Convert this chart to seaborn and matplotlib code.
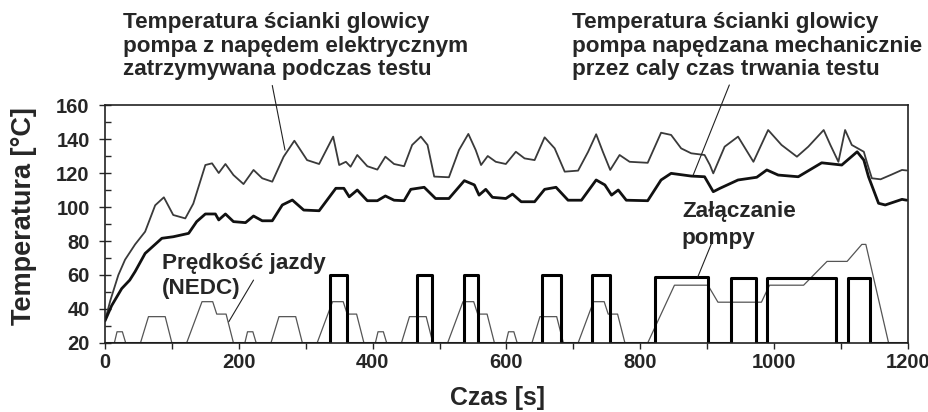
import matplotlib
matplotlib.use("Agg")
import matplotlib.pyplot as plt
from matplotlib.ticker import MultipleLocator
import pandas as pd
import seaborn as sns

# values: (time [s], value on the temperature axis)
upper_temp = [(0, 33), (8, 45), (20, 60), (30, 69), (45, 78), (60, 85.5), (75, 101), (88, 105.7),
              (102, 95.3), (120, 93.3), (132, 102), (150, 124.7), (160, 125.7), (170, 120),
              (180, 125.3), (192, 118.8), (207, 113.5), (222, 121.8), (235, 116.9), (250, 114.9),
              (267, 129.6), (283, 139), (302, 127.6), (320, 125.3), (341, 141.4), (350, 124.7),
              (360, 126.6), (367, 123.7), (377, 130.6), (392, 124), (407, 122), (419, 129.6),
              (432, 125.3), (447, 124), (459, 136.5), (472, 141.4), (482, 136.5), (492, 117.9),
              (514, 117.5), (529, 133.5), (543, 143), (554, 133.5), (562, 124.7), (572, 130),
              (584, 126.6), (599, 125.3), (614, 132.5), (627, 128.6), (642, 127.6), (657, 141),
              (672, 134.5), (687, 120.8), (707, 121.4), (722, 132.5), (734, 142.8), (744, 132.5),
              (755, 121.8), (769, 130.6), (784, 126.6), (811, 126), (831, 143.7), (846, 142.4),
              (861, 134.5), (876, 131.6), (896, 130.6), (904, 124.7), (909, 119.8), (926, 135.5),
              (946, 141.4), (969, 126.6), (991, 145.3), (1011, 136.5), (1034, 129.6), (1051, 135.5),
              (1074, 145.3), (1084, 136.5), (1096, 126.6), (1106, 145.3), (1116, 136.5),
              (1134, 132.5), (1139, 125.7), (1146, 116.9), (1159, 116.3), (1175, 119),
              (1191, 121.8), (1198, 121.5)]

lower_temp = [(0, 33), (10, 42), (25, 52), (37, 57), (45, 62), (60, 72.7), (85, 81.6), (102, 82.5),
              (125, 84.5), (137, 91.4), (150, 95.9), (165, 95.9), (170, 92.4), (180, 95.9),
              (192, 91.4), (210, 90.8), (222, 94.7), (235, 91.9), (250, 91.9), (265, 101.2),
              (280, 104.1), (297, 98.2), (320, 97.8), (345, 111), (357, 111), (365, 106),
              (377, 110), (392, 103.7), (407, 103.7), (419, 106.5), (432, 104), (447, 103.7),
              (457, 110.4), (477, 111.6), (494, 105), (514, 105), (537, 115.5), (552, 113),
              (559, 107), (569, 110.4), (579, 105.7), (599, 105), (609, 107.6), (622, 103.1),
              (642, 103.1), (657, 110.4), (674, 111.6), (692, 104), (712, 104), (734, 115.9),
              (747, 113), (757, 107), (767, 110), (779, 104), (811, 103.7), (831, 115.9),
              (846, 119.8), (876, 118.2), (896, 117.8), (909, 109), (919, 111), (946, 115.9),
              (974, 117.5), (989, 121.8), (1006, 118.8), (1036, 117.8), (1071, 126), (1101, 124.7),
              (1124, 132.5), (1134, 127.6), (1141, 117.8), (1156, 102.2), (1166, 101.2),
              (1191, 104.5), (1198, 104)]

# driving speed (NEDC) drawn on the same axis
speed_t = [0, 14, 18, 26, 31, 53, 65, 90, 100, 122, 145, 161, 167, 181, 192,
           209, 213, 221, 226, 248, 260, 285, 295, 317, 340, 356, 362, 376, 387,
           404, 408, 416, 421, 443, 455, 480, 490, 512, 535, 551, 557, 571, 582,
           599, 603, 611, 616, 638, 650, 675, 685, 707, 730, 746, 752, 766, 777,
           811, 851, 901, 916, 981, 993, 1044, 1079, 1109, 1131, 1137, 1171, 1200]
speed_v = [20, 20, 26.6, 26.6, 20, 20, 35.5, 35.5, 20, 20, 44.3, 44.3, 37, 37, 20,
           20, 26.6, 26.6, 20, 20, 35.5, 35.5, 20, 20, 44.3, 44.3, 37, 37, 20,
           20, 26.6, 26.6, 20, 20, 35.5, 35.5, 20, 20, 44.3, 44.3, 37, 37, 20,
           20, 26.6, 26.6, 20, 20, 35.5, 35.5, 20, 20, 44.3, 44.3, 37, 37, 20,
           20, 54, 54, 44, 44, 54, 54, 68, 68, 78, 78, 20, 20]

# pump switched on
pump_on = [(336, 362), (466, 488), (537, 558), (653, 682), (728, 754),
           (822, 901), (935, 973), (989, 1093), (1110, 1143)]
pump_level = [60, 60, 60, 60, 60, 59, 58.5, 58.5, 58.5]

sns.set_style("ticks")
plt.rcParams["font.family"] = ["Liberation Sans", "DejaVu Sans"]
plt.rcParams["font.weight"] = "bold"

fig = plt.figure(figsize=(9.29, 4.12), dpi=100)
ax = fig.add_axes([0.113, 0.1675, 0.8644, 0.5776])

up = pd.DataFrame(upper_temp, columns=["t", "v"])
lo = pd.DataFrame(lower_temp, columns=["t", "v"])
sns.lineplot(data=up, x="t", y="v", ax=ax, color="#3a3a3a", lw=1.3, sort=False, estimator=None)
sns.lineplot(data=lo, x="t", y="v", ax=ax, color="#111111", lw=2.0, sort=False, estimator=None)
sns.lineplot(x=speed_t, y=speed_v, ax=ax, color="#555555", lw=0.9, sort=False, estimator=None)

px, py = [0], [20]
for (a, b), lvl in zip(pump_on, pump_level):
    px += [a, a, b, b]
    py += [20, lvl, lvl, 20]
px.append(1200)
py.append(20)
sns.lineplot(x=px, y=py, ax=ax, color="black", lw=2.2, sort=False, estimator=None)

ax.set_xlim(0, 1200)
ax.set_ylim(20, 160)
ax.xaxis.set_major_locator(MultipleLocator(200))
ax.xaxis.set_minor_locator(MultipleLocator(100))
ax.yaxis.set_major_locator(MultipleLocator(20))
ax.yaxis.set_minor_locator(MultipleLocator(10))
ax.tick_params(axis="x", which="both", direction="out", length=4, width=1, pad=3, labelsize=14.5)
ax.tick_params(axis="y", which="major", direction="inout", length=8, width=1, pad=7, labelsize=14.5)
ax.tick_params(axis="y", which="minor", direction="in", length=4, width=1)
for lab in ax.get_xticklabels() + ax.get_yticklabels():
    lab.set_fontweight("bold")
for s in ax.spines.values():
    s.set_linewidth(1.2)
    s.set_color("#222222")

ax.set_xlabel("")
ax.set_ylabel("")
fig.text(0.5355, 0.017, "Czas [s]", ha="center", va="baseline", fontsize=17.9, fontweight="bold")
fig.text(0.026, 0.476, "Temperatura [°C]", ha="center", va="center", rotation=90,
         fontsize=19.5, fontweight="bold")

fs = 16.2
fig.text(0.1327, 0.818, "Temperatura ścianki glowicy\npompa z napędem elektrycznym\nzatrzymywana podczas testu",
         ha="left", va="baseline", fontsize=fs, fontweight="bold", linespacing=1.15)
fig.text(0.6154, 0.818, "Temperatura ścianki glowicy\npompa napędzana mechanicznie\nprzez caly czas trwania testu",
         ha="left", va="baseline", fontsize=fs, fontweight="bold", linespacing=1.15)
fig.text(0.734, 0.408, "Załączanie\npompy", ha="left", va="baseline", fontsize=fs,
         fontweight="bold", linespacing=1.35)
fig.text(0.174, 0.2864, "Prędkość jazdy\n(NEDC)", ha="left", va="baseline", fontsize=fs,
         fontweight="bold", linespacing=1.28)

leaders = [((250, 171.5), (269, 133.5)),
           ((933, 171.8), (879, 118.8)),
           ((906, 78.2), (886, 59)),
           ((222, 57), (185, 32.5))]
for (x0, y0), (x1, y1) in leaders:
    ax.annotate("", xy=(x1, y1), xytext=(x0, y0), annotation_clip=False,
                arrowprops=dict(arrowstyle="-", lw=0.8, color="#222222", shrinkA=0, shrinkB=0))

fig.savefig("out.png", dpi=100)
